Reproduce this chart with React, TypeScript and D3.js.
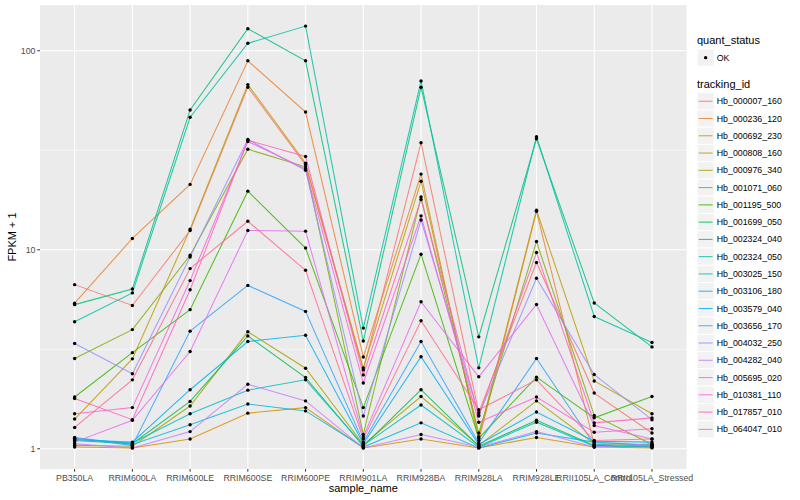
import * as d3 from "d3";

// sample order on the x axis
const samples = [
  "PB350LA",
  "RRIM600LA",
  "RRIM600LE",
  "RRIM600SE",
  "RRIM600PE",
  "RRIM901LA",
  "RRIM928BA",
  "RRIM928LA",
  "RRIM928LE",
  "RRII105LA_Control",
  "RRII105LA_Stressed",
];

const trackingIds = [
  "Hb_000007_160",
  "Hb_000236_120",
  "Hb_000692_230",
  "Hb_000808_160",
  "Hb_000976_340",
  "Hb_001071_060",
  "Hb_001195_500",
  "Hb_001699_050",
  "Hb_002324_040",
  "Hb_002324_050",
  "Hb_003025_150",
  "Hb_003106_180",
  "Hb_003579_040",
  "Hb_003656_170",
  "Hb_004032_250",
  "Hb_004282_040",
  "Hb_005695_020",
  "Hb_010381_110",
  "Hb_017857_010",
  "Hb_064047_010",
];

// ggplot hue palette for 20 levels
const palette = [
  "#F8766D", "#EA8331", "#D89000", "#C09B00", "#A3A500",
  "#7CAE00", "#39B600", "#00BB4E", "#00BF7D", "#00C1A3",
  "#00BFC4", "#00BAE0", "#00B0F6", "#35A2FF", "#9590FF",
  "#C77CFF", "#E76BF3", "#FA62DB", "#FF62BC", "#FF6C91",
];

// FPKM + 1, one row per tracking id, one value per sample
const fpkm: number[][] = [
  [6.68, 5.25, 12.5, 65.6, 26.7, 2.49, 34.5, 1.52, 8.63, 1.905, 1.2],
  [5.39, 11.4, 21.3, 89, 49.2, 2.89, 24.0, 1.1, 15.6, 1.05, 1.02],
  [1.02, 1.01, 1.12, 1.51, 1.61, 1.01, 1.12, 1.01, 1.14, 1.02, 1.01],
  [1.41, 2.83, 12.7, 67.6, 27.2, 2.55, 22.1, 1.15, 15.8, 2.19, 1.5],
  [1.04, 1.03, 1.64, 3.87, 2.54, 1.05, 1.83, 1.04, 1.74, 1.06, 1.05],
  [2.84, 3.97, 9.38, 32.0, 26.1, 1.18, 18.4, 1.2, 11.0, 1.47, 1.05],
  [1.82, 3.04, 5.0, 19.7, 10.2, 1.61, 9.5, 1.13, 2.29, 1.43, 1.83],
  [1.1, 1.06, 1.73, 3.69, 2.28, 1.03, 1.98, 1.03, 1.39, 1.04, 1.03],
  [5.3, 6.35, 50.4, 129, 89, 3.48, 65.6, 3.65, 36.1, 5.4, 3.25],
  [4.35, 6.07, 46.3, 109, 133, 4.04, 70.5, 2.55, 37.0, 4.62, 3.42],
  [1.12, 1.07, 1.5, 1.97, 2.22, 1.04, 1.66, 1.02, 1.36, 1.03, 1.02],
  [1.14, 1.05, 1.32, 1.68, 1.55, 1.02, 1.35, 1.01, 1.2, 1.08, 1.04],
  [1.11, 1.08, 1.98, 3.46, 3.72, 1.06, 2.9, 1.05, 1.53, 1.09, 1.08],
  [1.13, 1.04, 3.9, 6.62, 4.9, 1.08, 3.46, 1.07, 2.84, 1.05, 1.03],
  [3.38, 2.38, 9.2, 35.8, 25.1, 1.46, 14.1, 1.48, 7.19, 2.36, 1.4],
  [1.06, 1.01, 1.22, 2.11, 1.74, 1.01, 1.18, 1.02, 1.22, 1.02, 1.06],
  [1.08, 1.39, 3.08, 12.5, 12.4, 1.15, 5.48, 2.3, 5.31, 1.31, 1.12],
  [1.5, 1.61, 7.0, 35.0, 25.5, 2.14, 14.8, 1.36, 1.82, 1.21, 1.26],
  [1.79, 1.4, 6.3, 35.5, 29.4, 2.35, 17.9, 1.46, 9.69, 1.35, 1.43],
  [1.28, 2.22, 8.04, 13.9, 7.89, 1.12, 4.4, 1.57, 2.22, 1.1, 1.12],
];

const yTicks = [1, 10, 100];
const yMinor = [Math.sqrt(10), Math.sqrt(1000)];

const W = 800;
const H = 500;
const PANEL = { left: 40, right: 686.6, top: 5, bottom: 469 };
const FONT = "'Liberation Sans', Arial, Helvetica, sans-serif";

export default function App() {
  const x = d3
    .scalePoint<string>()
    .domain(samples)
    .range([PANEL.left, PANEL.right])
    .padding(0.6);

  // log scale with ggplot's 5% expansion in log space
  const all = fpkm.flat();
  const lo = Math.log10(d3.min(all) as number);
  const hi = Math.log10(d3.max(all) as number);
  const pad = (hi - lo) * 0.05;
  const y = d3
    .scaleLog()
    .domain([Math.pow(10, lo - pad), Math.pow(10, hi + pad)])
    .range([PANEL.bottom, PANEL.top]);

  const line = d3
    .line<number>()
    .x((_, i) => x(samples[i]) as number)
    .y((d) => y(d));

  const legendX = 697;
  const keySize = 17.27;
  const trackTop = 92.6;

  return (
    <svg
      width={W}
      height={H}
      style={{ position: "absolute", left: 0, top: 0, background: "#fff" }}
      fontFamily={FONT}
    >
      <rect
        x={PANEL.left}
        y={PANEL.top}
        width={PANEL.right - PANEL.left}
        height={PANEL.bottom - PANEL.top}
        fill="#EBEBEB"
      />
      {/* grid */}
      {yMinor.map((t) => (
        <line
          key={"mn" + t}
          x1={PANEL.left}
          x2={PANEL.right}
          y1={y(t)}
          y2={y(t)}
          stroke="#fff"
          strokeWidth={0.55}
        />
      ))}
      {yTicks.map((t) => (
        <line
          key={"mj" + t}
          x1={PANEL.left}
          x2={PANEL.right}
          y1={y(t)}
          y2={y(t)}
          stroke="#fff"
          strokeWidth={1.1}
        />
      ))}
      {samples.map((s) => (
        <line
          key={"vx" + s}
          x1={x(s)}
          x2={x(s)}
          y1={PANEL.top}
          y2={PANEL.bottom}
          stroke="#fff"
          strokeWidth={1.1}
        />
      ))}

      {/* lines */}
      {fpkm.map((vals, i) => (
        <path
          key={"ln" + i}
          d={line(vals) as string}
          fill="none"
          stroke={palette[i]}
          strokeWidth={1.05}
          strokeOpacity={0.85}
        />
      ))}
      {/* points */}
      {fpkm.map((vals, i) =>
        vals.map((v, j) => (
          <circle
            key={"pt" + i + "-" + j}
            cx={x(samples[j])}
            cy={y(v)}
            r={1.7}
            fill="#000"
          />
        ))
      )}

      {/* y axis */}
      {yTicks.map((t) => (
        <g key={"yt" + t}>
          <line
            x1={PANEL.left - 2.7}
            x2={PANEL.left}
            y1={y(t)}
            y2={y(t)}
            stroke="#333"
            strokeWidth={1}
          />
          <text
            x={PANEL.left - 4.5}
            y={y(t)}
            dy="0.35em"
            textAnchor="end"
            fontSize={8.8}
            fill="#4D4D4D"
          >
            {t}
          </text>
        </g>
      ))}
      <text
        transform={`translate(16,${(PANEL.top + PANEL.bottom) / 2}) rotate(-90)`}
        textAnchor="middle"
        fontSize={11}
        fill="#000"
      >
        FPKM + 1
      </text>

      {/* x axis */}
      {samples.map((s) => (
        <g key={"xt" + s}>
          <line
            x1={x(s)}
            x2={x(s)}
            y1={PANEL.bottom}
            y2={PANEL.bottom + 2.7}
            stroke="#333"
            strokeWidth={1}
          />
          <text
            x={x(s)}
            y={PANEL.bottom + 11.5}
            textAnchor="middle"
            fontSize={8.8}
            fill="#4D4D4D"
          >
            {s}
          </text>
        </g>
      ))}
      <text
        x={(PANEL.left + PANEL.right) / 2}
        y={492}
        textAnchor="middle"
        fontSize={11}
        fill="#000"
      >
        sample_name
      </text>

      {/* legend: quant_status */}
      <text x={legendX} y={44} fontSize={11} fill="#000">
        quant_status
      </text>
      <rect
        x={legendX}
        y={49}
        width={keySize}
        height={keySize}
        fill="#F2F2F2"
        stroke="#fff"
        strokeWidth={1}
      />
      <circle cx={legendX + keySize / 2} cy={49 + keySize / 2} r={1.7} fill="#000" />
      <text x={legendX + keySize + 2.5} y={49 + keySize / 2} dy="0.35em" fontSize={8.8} fill="#000">
        OK
      </text>

      {/* legend: tracking_id */}
      <text x={legendX} y={88} fontSize={11} fill="#000">
        tracking_id
      </text>
      {trackingIds.map((id, i) => {
        const ky = trackTop + i * keySize;
        return (
          <g key={"lg" + id}>
            <rect
              x={legendX}
              y={ky}
              width={keySize}
              height={keySize}
              fill="#F2F2F2"
              stroke="#fff"
              strokeWidth={1}
            />
            <line
              x1={legendX + 1.7}
              x2={legendX + keySize - 1.7}
              y1={ky + keySize / 2}
              y2={ky + keySize / 2}
              stroke={palette[i]}
              strokeWidth={1.05}
              strokeOpacity={0.85}
            />
            <text
              x={legendX + keySize + 2.5}
              y={ky + keySize / 2}
              dy="0.35em"
              fontSize={8.8}
              fill="#000"
            >
              {id}
            </text>
          </g>
        );
      })}
    </svg>
  );
}
